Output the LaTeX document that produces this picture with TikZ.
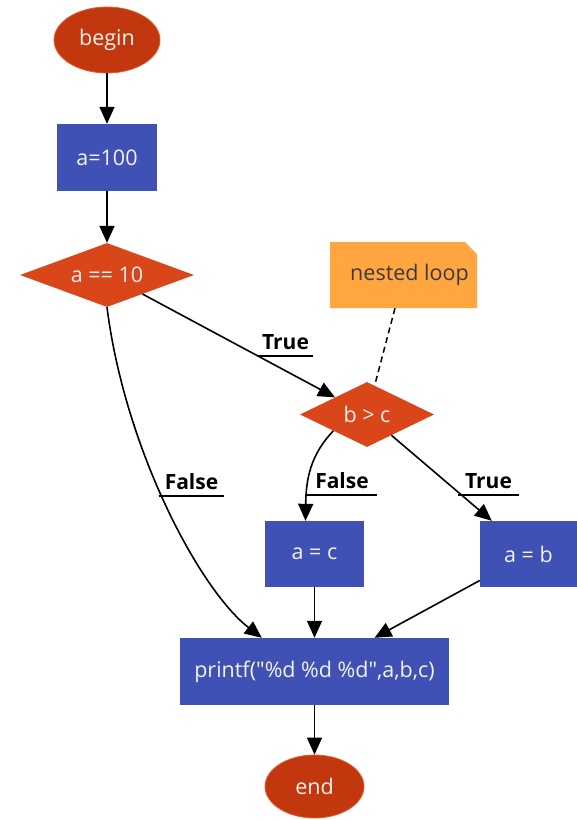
\documentclass[tikz,border=0pt]{standalone}
\usepackage{fontspec}
\setmainfont{Open Sans}[Ligatures=TeXOff]
\usetikzlibrary{shapes.geometric,arrows.meta}

\definecolor{termfill}{HTML}{C2370E}
\definecolor{termedge}{HTML}{E2602C}
\definecolor{condfill}{HTML}{D8461A}
\definecolor{procfill}{HTML}{3F51B5}
\definecolor{notefill}{HTML}{FFA640}
\definecolor{notetext}{HTML}{3A3A3A}
\definecolor{lighttext}{HTML}{F6F1EE}

\tikzset{
  base/.style={inner sep=0pt, font=\fontsize{21.5}{25}\selectfont, text=lighttext},
  terminal/.style={base, ellipse, fill=termfill, draw=termedge, line width=0.8pt},
  procbox/.style={base, rectangle, fill=procfill},
  decision/.style={base, diamond, fill=condfill},
  notebox/.style={base, rectangle, text=notetext,
    path picture={
      \fill[notefill] (path picture bounding box.south west)
        -- (path picture bounding box.north west)
        -- ([xshift=-12pt]path picture bounding box.north east)
        -- ([yshift=-12pt]path picture bounding box.north east)
        -- (path picture bounding box.south east) -- cycle;}},
  flow/.style={line width=1.6pt, -{Triangle[length=17pt,width=15pt]}},
  edgelabel/.style={inner sep=0pt, anchor=south, text height=15pt, text depth=6.5pt,
    font=\fontsize{21}{25}\selectfont\bfseries, text=black},
  underline/.style={line width=1.4pt},
}

\begin{document}
\begin{tikzpicture}[x=1pt, y=-1pt]
  \useasboundingbox (0,0) rectangle (577,820);

  % nodes
  \node[terminal, minimum width=106pt, minimum height=66pt] (begin) at (107,40) {begin};
  \node[procbox, minimum width=100pt, minimum height=67pt] (a100) at (107,157.5) {a=100};
  \node[decision, shape aspect=2.7, minimum width=174pt, minimum height=64pt] (c1) at (107,275) {a == 10};
  \node[notebox, minimum width=147pt, minimum height=66pt] (note) at (403.5,275) {\hspace*{12pt}nested loop};
  \node[decision, shape aspect=2.06, minimum width=134pt, minimum height=65pt] (c2) at (367,414.5) {b > c};
  \node[procbox, minimum width=99pt, minimum height=66pt] (ac) at (314.5,554) {a = c};
  \node[procbox, minimum width=97pt, minimum height=66pt] (ab) at (528.5,554) {a = b};
  \node[procbox, minimum width=269pt, minimum height=67pt] (printf) at (314.5,671.5)
    {printf("\%d \%d \%d",a,b,c)};
  \node[terminal, minimum width=99pt, minimum height=63pt] (end) at (314.5,786.5) {end};

  % edge labels with their underlines
  \node[edgelabel, minimum width=55pt] (t1) at (285.5,356) {True};
  \node[edgelabel, minimum width=65pt] (f1) at (191.5,496) {False};
  \node[edgelabel, minimum width=70pt] (f2) at (342,495) {False};
  \node[edgelabel, minimum width=61pt] (t2) at (488.5,495) {True};
  \foreach \l in {t1,f1,f2,t2}
    \draw[underline] (\l.south west) -- (\l.south east);

  % connectors
  \draw[flow] (begin) -- (a100);
  \draw[flow] (a100) -- (c1);
  \draw[flow] (c1) -- (c2);
  \draw[flow] (c1.south) .. controls (125,450) and (200,590) .. ([xshift=82pt]printf.north west);
  \draw[flow] (c2.south west) .. controls (310,455) and (306,480) .. ([xshift=-9pt]ac.north);
  \draw[flow] (c2) -- ([xshift=12pt]ab.north west);
  \draw[flow] (ac) -- (printf);
  \draw[flow] (ab) -- ([xshift=60pt]printf.north);
  \draw[flow] (printf) -- (end);
  \draw[line width=1.5pt, dash pattern=on 6pt off 4pt] ([xshift=-8.5pt]note.south) -- (c2);
\end{tikzpicture}
\end{document}
